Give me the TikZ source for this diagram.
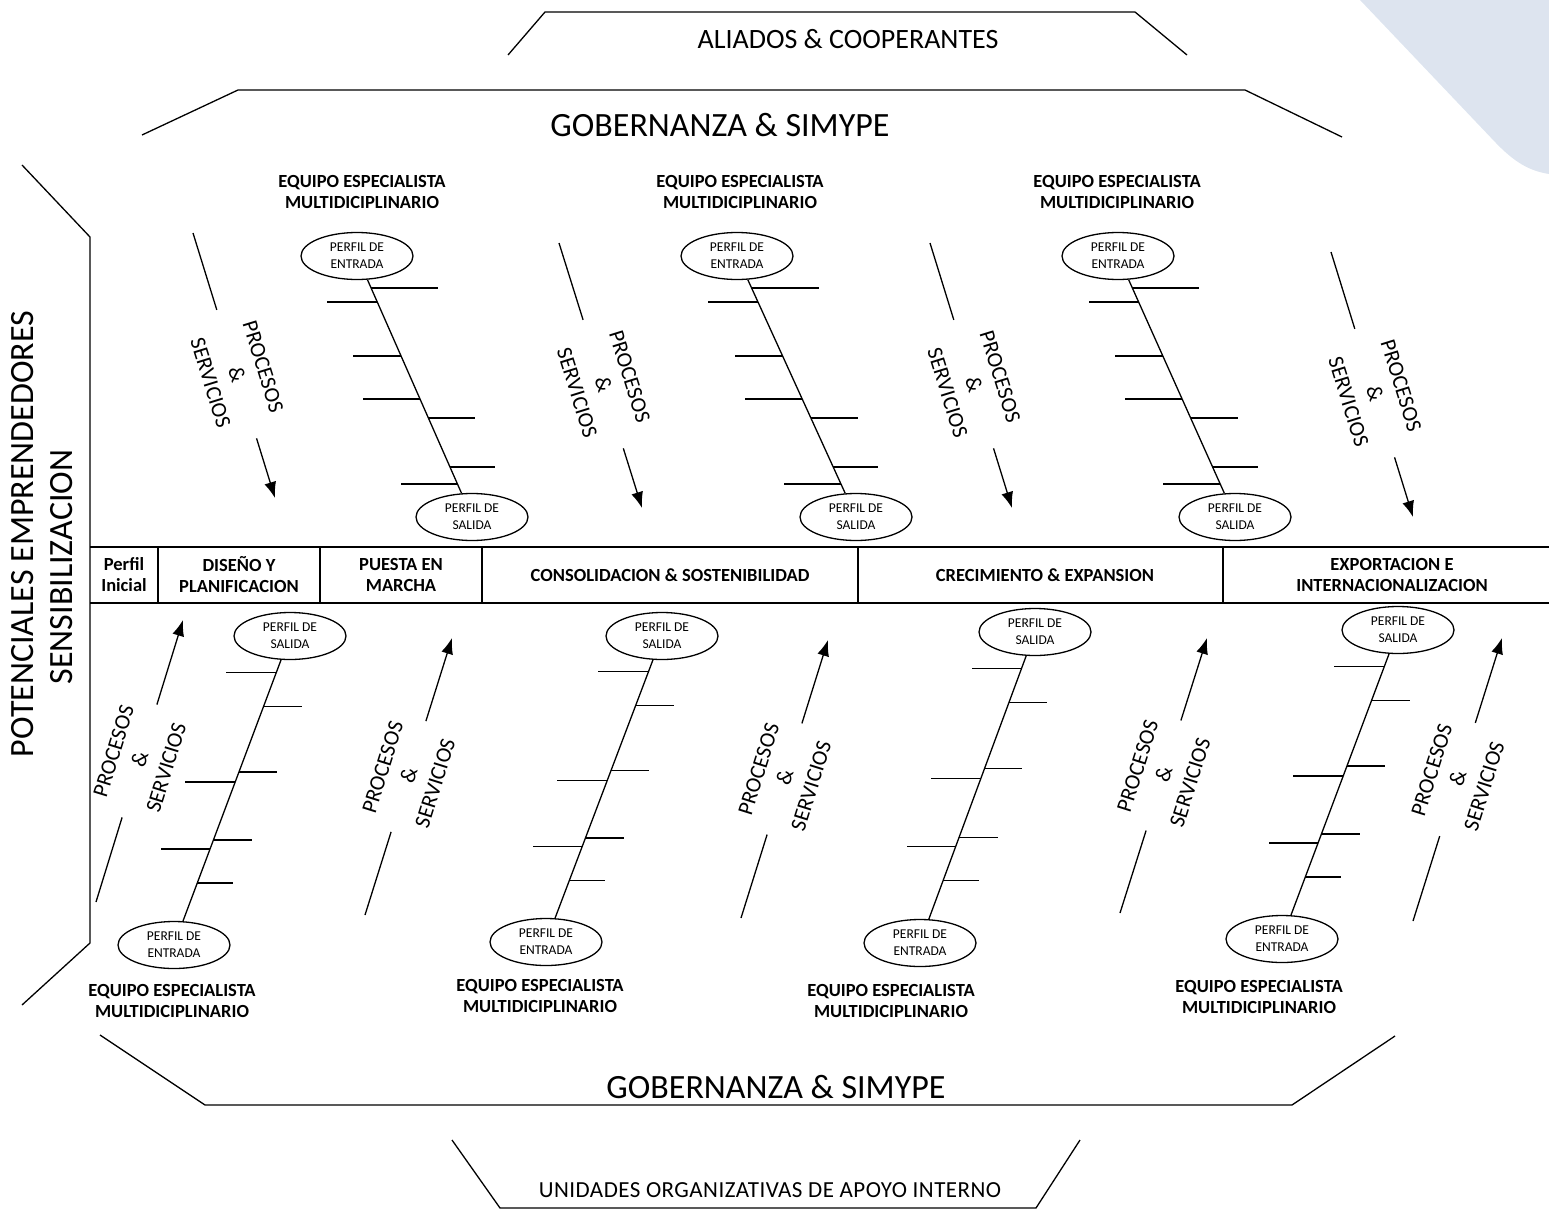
\documentclass[tikz,border=0pt]{standalone}
\usepackage{fontspec}
\setmainfont{Carlito}
\usetikzlibrary{arrows.meta,shapes.geometric,calc}
\definecolor{fondo}{RGB}{221,228,239}

\tikzset{
  perfil/.style={ellipse,draw,line width=1.3pt,minimum width=112pt,minimum height=47pt,
    inner sep=0pt,align=center,font=\fontsize{13.5}{17}\selectfont},
  equipo/.style={align=center,font=\bfseries\fontsize{18.5}{21}\selectfont},
  etapa/.style={align=center,font=\bfseries\fontsize{18.5}{21}\selectfont},
  proceso/.style={align=center,sloped,inner sep=0pt,font=\fontsize{22}{27.5}\selectfont},
  titulo/.style={font=\fontsize{34}{40}\selectfont},
}

\begin{document}
\begin{tikzpicture}[x=1pt,y=-1pt,line width=1.3pt,>={Latex[length=16pt,width=12pt]}]
\useasboundingbox (0,0) rectangle (1549,1209);
% Background corner
\fill[fondo] (1360,0) -- (1495,142) .. controls (1515,163) and (1530,171) .. (1549,174) -- (1549,0) -- cycle;
% The frames
\draw (508,55) -- (545,12) -- (1135,12) -- (1187,55);
\node[font=\fontsize{28}{34}\selectfont] (aliados) at (848,39) {ALIADOS \& COOPERANTES};
\draw (142,135) -- (238,90) -- (1245,90) -- (1342,137);
\node[titulo] (gobarriba) at (720,125) {GOBERNANZA \& SIMYPE};
\draw (22,165) -- (90,237) -- (90,943) -- (22,1005);
\node[titulo,rotate=90] (potenciales) at (23,534) {POTENCIALES EMPRENDEDORES};
\node[titulo,rotate=90] (sensib) at (62,567) {SENSIBILIZACION};
\draw (100,1035) -- (205,1105) -- (1292,1105) -- (1395,1036);
\node[titulo] (gobabajo) at (776,1087) {GOBERNANZA \& SIMYPE};
\draw (452,1140) -- (500,1208) -- (1036,1208) -- (1080,1140);
\node[font=\fontsize{23}{28}\selectfont\addfontfeature{LetterSpace=2}] (unidades) at (770,1190) {UNIDADES ORGANIZATIVAS DE APOYO INTERNO};
% The stages
\draw (90,547) -- (1549,547);
\draw (90,603) -- (1549,603);
\foreach \xd in {158,320,482,858,1223}
  \draw (\xd,547) -- (\xd,603);
\node[etapa] (inicial) at (124,575) {Perfil\\Inicial};
\node[etapa] (diseno) at (239,575) {DISEÑO Y\\PLANIFICACION};
\node[etapa] (puesta) at (401,575) {PUESTA EN\\MARCHA};
\node[etapa] (consolidacion) at (670,575) {CONSOLIDACION \& SOSTENIBILIDAD};
\node[etapa] (crecimiento) at (1045,575) {CRECIMIENTO \& EXPANSION};
\node[etapa] (exportacion) at (1392,575) {EXPORTACION E\\INTERNACIONALIZACION};
% Upper fishbones
\foreach \n/\xa/\xb in {1/357/472,2/737/856,3/1118/1235}
{
  \node[perfil] (ent\n) at (\xa,256) {PERFIL DE\\ENTRADA};
  \node[perfil] (sal\n) at (\xb,517) {PERFIL DE\\SALIDA};
  \draw (ent\n) -- (sal\n);
  \foreach \f/\l in {0.123/67,0.176/-50,0.383/-48,0.548/-57,0.621/47,0.808/45,0.874/-57}
    \draw ($(ent\n)!\f!(sal\n)$) -- ++(\l,0);
}
% Lower fishbones
\foreach \n/\xa/\ya/\xb/\yb in {4/174/945/290/636,5/546/942/662/636,6/920/943/1035/632,7/1282/939/1398/630}
{
  \node[perfil] (ent\n) at (\xa,\ya) {PERFIL DE\\ENTRADA};
  \node[perfil] (sal\n) at (\xb,\yb) {PERFIL DE\\SALIDA};
  \draw (ent\n) -- (sal\n);
  \foreach \f/\l in {0.201/36,0.311/-49,0.340/39,0.528/-50,0.560/38,0.773/38,0.883/-50}
    \draw ($(ent\n)!\f!(sal\n)$) -- ++(\l,0);
}
% The teams
\foreach \xe/\ye [count=\i] in {362/192,740/192,1117/192,172/1001,540/996,891/1001,1259/997}
  \node[equipo] (equipo\i) at (\xe,\ye) {EQUIPO ESPECIALISTA\\MULTIDICIPLINARIO};
% Processes going down
\foreach \xs/\ys/\xe/\ye [count=\i] in {193/233/275/498,559/243/642/508,930/243/1012/508,1331/252/1413/517}
{
  \coordinate (pa\i) at (\xs,\ys);
  \coordinate (pb\i) at (\xe,\ye);
  \draw (pa\i) -- ($(pa\i)!0.29!(pb\i)$);
  \draw[->] ($(pa\i)!0.775!(pb\i)$) -- (pb\i);
  \path (pa\i) -- (pb\i) node[proceso,pos=0.535] (proc\i) {PROCESOS\\\&\\SERVICIOS};
}
% Processes going up
\foreach \xs/\ys/\xe/\ye [count=\i] in {96/902/183/620,365/915/452/638,741/918/828/640,1120/913/1207/638,1413/921/1502/638}
{
  \coordinate (qa\i) at (\xs,\ys);
  \coordinate (qb\i) at (\xe,\ye);
  \draw (qa\i) -- ($(qa\i)!0.3!(qb\i)$);
  \draw[->] ($(qa\i)!0.7!(qb\i)$) -- (qb\i);
  \path (qa\i) -- (qb\i) node[proceso,pos=0.505] (procb\i) {PROCESOS\\\&\\SERVICIOS};
}
\end{tikzpicture}
\end{document}
